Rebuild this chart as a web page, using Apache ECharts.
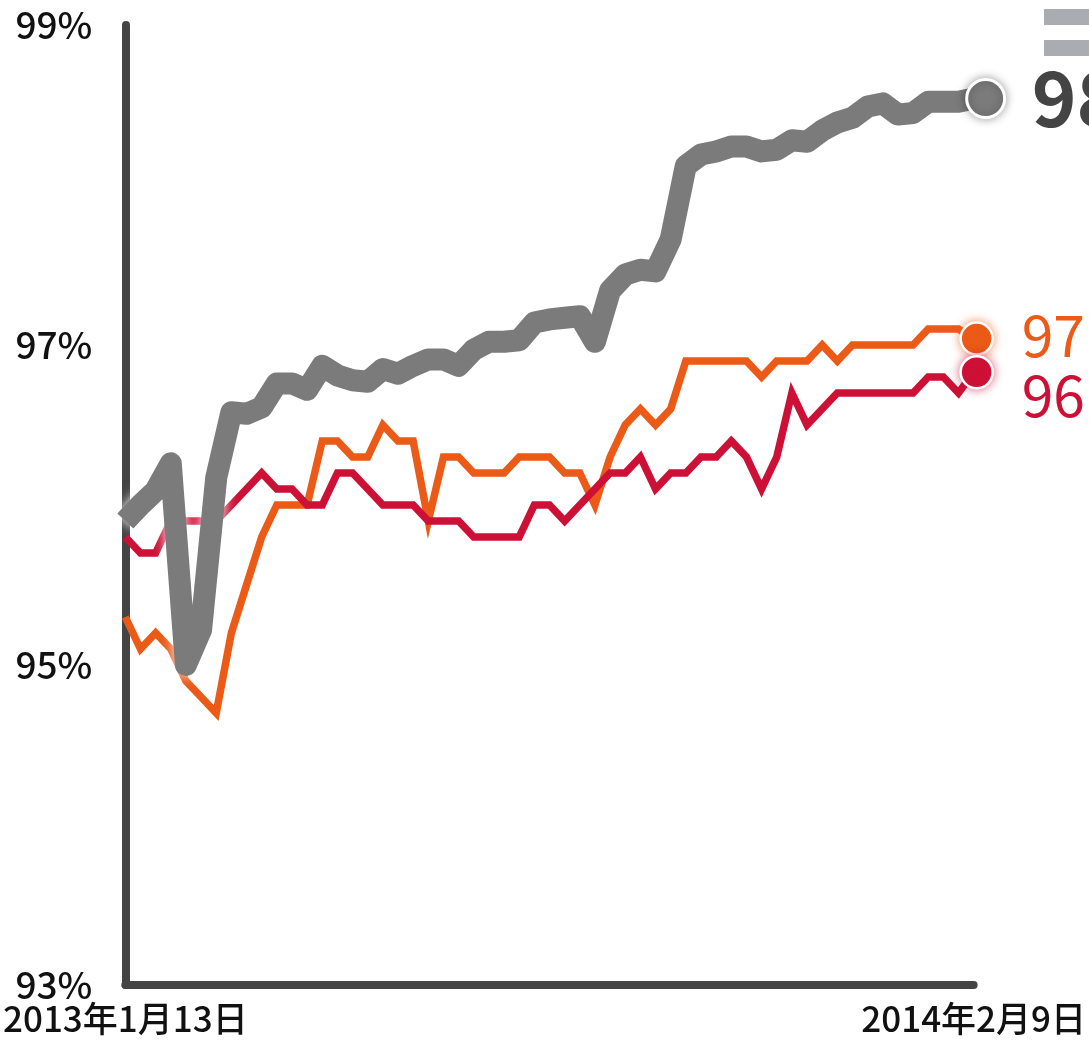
<!DOCTYPE html>
<html>
<head>
<meta charset="utf-8">
<script src="https://cdn.jsdelivr.net/npm/echarts@6/dist/echarts.min.js"></script>
<style>
  html, body { margin: 0; padding: 0; background: #ffffff; }
  #chart { width: 1089px; height: 1040px; }
</style>
</head>
<body>
<div id="chart"></div>
<script>
// Weekly series, first week 2013-01-13, last week 2014-02-09 (57 weeks)
const startDate = '2013-01-13';
const weekCount = 57;

const seriesNames = ['全体', '系列A', '系列B'];

// Overall rate (%)
const totalValues = [
  95.90, 96.00, 96.09, 96.26, 95.00, 95.22, 96.17, 96.58, 96.57, 96.61,
  96.76, 96.76, 96.72, 96.87, 96.81, 96.78, 96.77, 96.85, 96.82, 96.87,
  96.91, 96.91, 96.87, 96.97, 97.02, 97.02, 97.03, 97.14, 97.16, 97.17,
  97.18, 97.02, 97.34, 97.44, 97.47, 97.46, 97.66, 98.12, 98.19, 98.21,
  98.24, 98.24, 98.21, 98.22, 98.28, 98.27, 98.34, 98.39, 98.42, 98.49,
  98.51, 98.44, 98.45, 98.52, 98.52, 98.52, 98.54
];

// Series A rate (%)
const orangeValues = [
  95.3, 95.1, 95.2, 95.1, 94.9, 94.8, 94.7, 95.2, 95.5, 95.8,
  96.0, 96.0, 96.0, 96.4, 96.4, 96.3, 96.3, 96.5, 96.4, 96.4,
  95.9, 96.3, 96.3, 96.2, 96.2, 96.2, 96.3, 96.3, 96.3, 96.2,
  96.2, 96.0, 96.3, 96.5, 96.6, 96.5, 96.6, 96.9, 96.9, 96.9,
  96.9, 96.9, 96.8, 96.9, 96.9, 96.9, 97.0, 96.9, 97.0, 97.0,
  97.0, 97.0, 97.0, 97.1, 97.1, 97.1, 97.04
];

// Series B rate (%)
const redValues = [
  95.8, 95.7, 95.7, 95.9, 95.9, 95.9, 95.9, 96.0, 96.1, 96.2,
  96.1, 96.1, 96.0, 96.0, 96.2, 96.2, 96.1, 96.0, 96.0, 96.0,
  95.9, 95.9, 95.9, 95.8, 95.8, 95.8, 95.8, 96.0, 96.0, 95.9,
  96.0, 96.1, 96.2, 96.2, 96.3, 96.1, 96.2, 96.2, 96.3, 96.3,
  96.4, 96.3, 96.1, 96.3, 96.7, 96.5, 96.6, 96.7, 96.7, 96.7,
  96.7, 96.7, 96.7, 96.8, 96.8, 96.7, 96.83
];

const yTicks = [93, 95, 97, 99];

const GREY = '#7b7b7b';
const ORANGE = '#eb5a17';
const RED = '#cd1136';
const AXIS = '#444444';
const FONT = '"Noto Sans CJK JP", "Noto Sans", sans-serif';

// category labels: one per week
const weeks = [];
{
  const d0 = new Date(startDate + 'T00:00:00Z');
  for (let i = 0; i < weekCount; i++) {
    const d = new Date(d0.getTime() + i * 7 * 86400000);
    weeks.push(d.getUTCFullYear() + '年' + (d.getUTCMonth() + 1) + '月' + d.getUTCDate() + '日');
  }
}

// highlight the final week with a ringed dot
function withEndDot(values, size, color, border, offset, glow) {
  return values.map((v, i) => {
    if (i !== values.length - 1) return v;
    return {
      value: v,
      symbol: 'circle',
      symbolSize: size,
      symbolOffset: offset,
      itemStyle: {
        color: color,
        borderColor: '#ffffff',
        borderWidth: border,
        shadowColor: glow,
        shadowBlur: 10
      }
    };
  });
}

const chart = echarts.init(document.getElementById('chart'), null, { renderer: 'canvas' });

chart.setOption({
  animation: false,
  backgroundColor: '#ffffff',
  textStyle: { fontFamily: FONT },
  grid: { left: 118, right: 114, top: 25, bottom: 55, containLabel: false },
  legend: {
    orient: 'vertical',
    left: 1039,
    top: 4,
    icon: 'rect',
    itemWidth: 80,
    itemHeight: 16,
    itemGap: 15,
    data: [seriesNames[1], seriesNames[2]],
    itemStyle: { color: '#a9adb1' },
    textStyle: { color: '#444', fontSize: 14 }
  },
  xAxis: {
    type: 'category',
    boundaryGap: false,
    data: weeks,
    axisLine: { show: true, lineStyle: { color: AXIS, width: 8 } },
    axisTick: { show: false },
    splitLine: { show: false },
    axisLabel: {
      interval: weekCount - 2,
      showMinLabel: true,
      showMaxLabel: true,
      color: '#111111',
      fontSize: 35,
      fontWeight: 500,
      fontFamily: FONT,
      margin: 16
    }
  },
  yAxis: {
    type: 'value',
    min: yTicks[0],
    max: yTicks[yTicks.length - 1],
    interval: 2,
    axisLine: { show: true, lineStyle: { color: AXIS, width: 8 } },
    axisTick: { show: false },
    splitLine: { show: false },
    axisLabel: {
      formatter: '{value}%',
      color: '#111111',
      fontSize: 37,
      fontWeight: 500,
      fontFamily: FONT,
      margin: 33,
      padding: [10, 0, 0, 0]
    }
  },
  series: [
    {
      name: seriesNames[1],
      type: 'line',
      data: withEndDot(orangeValues, 32, ORANGE, 2.5, [3, 0], 'rgba(235,90,23,0.6)'),
      showSymbol: true,
      symbol: 'none',
      color: ORANGE,
      lineStyle: { color: ORANGE, width: 7.5, join: 'miter' },
      endLabel: {
        show: true,
        formatter: p => p.value.toFixed(1) + '%',
        color: ORANGE,
        fontSize: 57,
        fontFamily: FONT,
        offset: [40, -3]
      },
      z: 2
    },
    {
      name: seriesNames[2],
      type: 'line',
      data: withEndDot(redValues, 32, RED, 2.5, [3, 0], 'rgba(205,17,54,0.6)'),
      showSymbol: true,
      symbol: 'none',
      color: RED,
      lineStyle: { color: RED, width: 7.5, join: 'miter' },
      endLabel: {
        show: true,
        formatter: p => p.value.toFixed(1) + '%',
        color: RED,
        fontSize: 57,
        fontFamily: FONT,
        offset: [40, 23]
      },
      z: 3
    },
    {
      name: seriesNames[0],
      type: 'line',
      data: withEndDot(totalValues, 38, GREY, 3, [12, 0], 'rgba(0,0,0,0.35)'),
      showSymbol: true,
      symbol: 'none',
      color: GREY,
      lineStyle: {
        color: GREY,
        width: 22,
        join: 'round',
        shadowColor: 'rgba(255,255,255,0.95)',
        shadowBlur: 12
      },
      endLabel: {
        show: true,
        formatter: p => p.value.toFixed(1) + '%',
        color: '#444444',
        fontSize: 76,
        fontWeight: 'bold',
        fontFamily: FONT,
        offset: [50, 0]
      },
      z: 4
    }
  ]
});
</script>
</body>
</html>
